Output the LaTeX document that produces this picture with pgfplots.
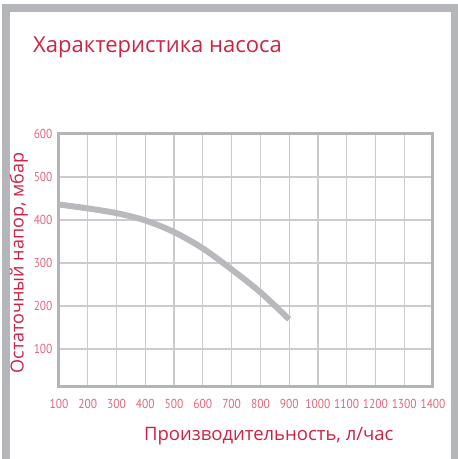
\documentclass[border=0pt]{standalone}
\usepackage{fontspec}
\setmainfont{Open Sans}
\newfontfamily\tickfont[FakeStretch=0.88]{PT Sans}
\usepackage{pgfplots}
\pgfplotsset{compat=1.18}
\definecolor{framec}{HTML}{B5B6BA}
\definecolor{crim}{HTML}{CC2244}
\definecolor{pinkt}{HTML}{E0677D}
\definecolor{gridc}{HTML}{CBCCCF}
\definecolor{axc}{HTML}{B3B4B7}
\definecolor{curvec}{HTML}{B8B9BC}
\begin{document}
\begin{tikzpicture}[x=1pt,y=1pt]
\useasboundingbox (0,0) rectangle (458,459);
\begin{scope}
\clip (0,0) rectangle (458,459);
\draw[framec, line width=8pt] (6,-10) rectangle (455,451);
\end{scope}
\node[anchor=base west, text=crim, font=\fontsize{22}{26}\selectfont, inner sep=0pt] at (33,406) {Характеристика насоса};
\begin{axis}[
  at={(59pt,73pt)}, anchor=south west,
  scale only axis, width=374pt, height=252pt,
  xmin=100, xmax=1400, ymin=14, ymax=600,
  xtick={100,200,...,1400}, ytick={100,200,...,600},
  grid=major, grid style={gridc, line width=1.2pt},
  axis line style={axc, line width=3pt},
  major tick length=0pt,
  /pgf/number format/assume math mode=true,
  /pgf/number format/1000 sep={},
  xticklabel style={font=\tickfont\fontsize{13}{15}\selectfont, text=pinkt, anchor=center, yshift=-18pt},
  yticklabel style={font=\tickfont\fontsize{13}{15}\selectfont, text=pinkt, anchor=east, xshift=-3pt},
  xlabel={Производительность, л/час},
  ylabel={Остаточный напор, мбар},
  xlabel style={font=\fontsize{18.5}{21}\selectfont, text=crim, at={(axis description cs:0.561,-0.198)}, anchor=center},
  ylabel style={font=\fontsize{18}{21}\selectfont, text=crim, at={(axis description cs:-0.107,0.488)}, anchor=center},
]
\addplot[curvec, line width=6pt, smooth] coordinates {(100,436)(200,427)(300,416)(400,399)(500,372)(600,334)(700,285)(800,232)(900,169)};
\end{axis}
\end{tikzpicture}
\end{document}
